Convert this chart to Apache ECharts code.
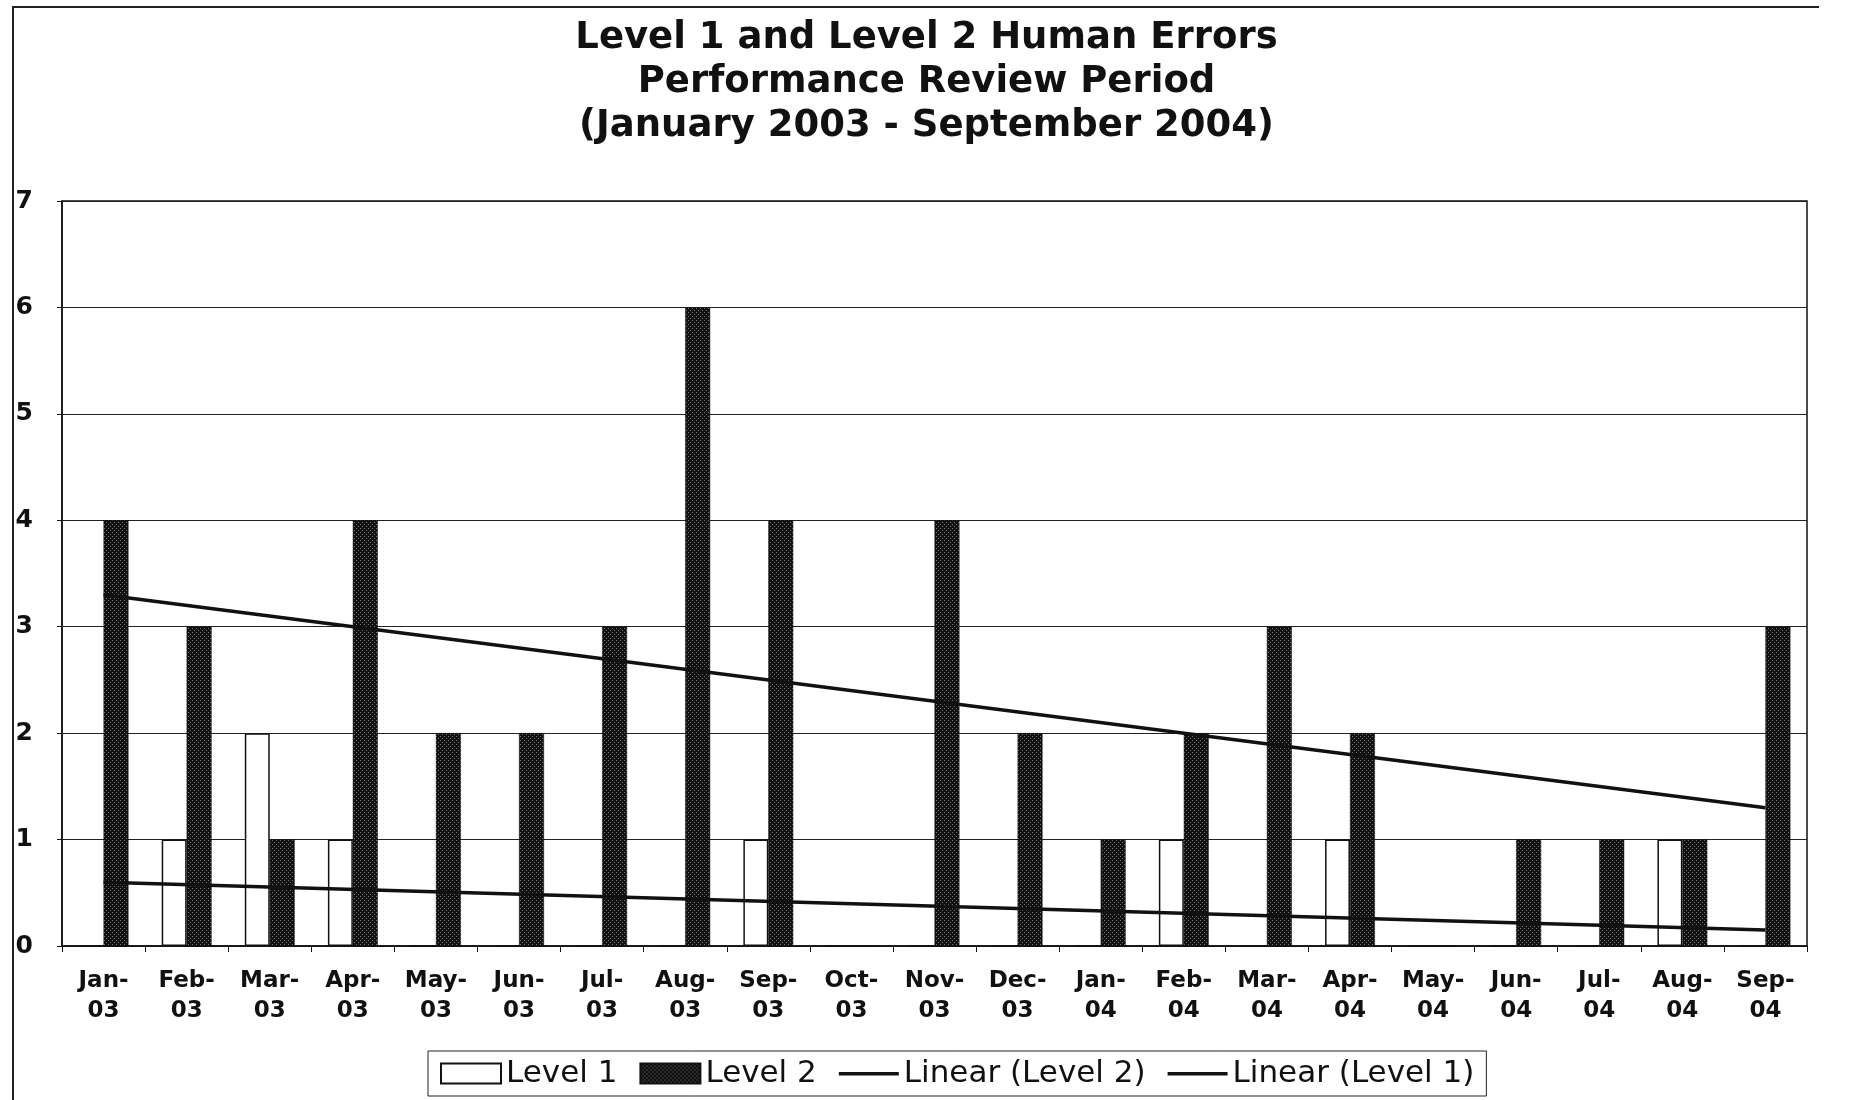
<!DOCTYPE html>
<html>
<head>
<meta charset="utf-8">
<script src="https://cdn.jsdelivr.net/npm/echarts@6/dist/echarts.min.js"></script>
<style>
html,body{margin:0;padding:0;background:#fff;}
#wrap{position:relative;width:1853px;height:1100px;}
#chart{position:absolute;left:0;top:0;width:1853px;height:1100px;}
#frame{position:absolute;left:12px;top:6px;width:1805px;height:1094px;border-top:2px solid #222;border-left:2px solid #222;pointer-events:none;}
</style>
</head>
<body>
<div id="wrap"><div id="chart"></div><div id="frame"></div></div>
<script>
const categories = ['Jan-\n03','Feb-\n03','Mar-\n03','Apr-\n03','May-\n03','Jun-\n03','Jul-\n03','Aug-\n03','Sep-\n03','Oct-\n03','Nov-\n03','Dec-\n03',
  'Jan-\n04','Feb-\n04','Mar-\n04','Apr-\n04','May-\n04','Jun-\n04','Jul-\n04','Aug-\n04','Sep-\n04'];
const level1 = [0,1,2,1,0,0,0,0,1,0,0,0,0,1,0,1,0,0,0,1,0];
const level2 = [4,3,1,4,2,2,3,6,4,0,4,2,1,2,3,2,0,1,1,1,3];
// trend line end values (first and last month)
const trendLevel2 = [3.3, 1.3];
const trendLevel1 = [0.6, 0.15];
const yTicks = [0,1,2,3,4,5,6,7];

// stipple pattern for Level 2 fill
const pc = document.createElement('canvas');
pc.width = 4; pc.height = 4;
const pctx = pc.getContext('2d');
pctx.fillStyle = '#111'; pctx.fillRect(0,0,4,4);
pctx.fillStyle = '#777'; pctx.fillRect(0,0,1,1); pctx.fillRect(2,2,1,1);

// legend icon: thin horizontal line inside an invisible 60x20 box
const lineIcon = 'path://M0,0h0.01v0.01h-0.01z M60,20h0.01v0.01h-0.01z M0,8.5h60v3.5H0z';

const chart = echarts.init(document.getElementById('chart'));
const last = categories.length - 1;
chart.setOption({
  animation: false,
  backgroundColor: '#fff',
  title: {
    text: 'Level 1 and Level 2 Human Errors\nPerformance Review Period\n(January 2003 - September 2004)',
    left: 'center',
    top: 11,
    textStyle: { fontFamily: 'DejaVu Sans', fontWeight: 'bold', fontSize: 37, lineHeight: 44, color: '#111' }
  },
  legend: {
    bottom: 4,
    left: 428,
    padding: [7, 12],
    borderColor: '#222',
    borderWidth: 1,
    itemGap: 22,
    itemWidth: 60,
    itemHeight: 20,
    textStyle: { fontFamily: 'DejaVu Sans', fontSize: 31, color: '#111' },
    data: [
      { name: 'Level 1', icon: 'rect' },
      { name: 'Level 2', icon: 'rect' },
      { name: 'Linear (Level 2)', icon: lineIcon },
      { name: 'Linear (Level 1)', icon: lineIcon }
    ]
  },
  grid: { left: 62, right: 46, top: 201, bottom: 154, show: true, borderColor: '#111', borderWidth: 1.5 },
  xAxis: {
    type: 'category',
    data: categories,
    axisLine: { lineStyle: { color: '#111', width: 1.5 } },
    axisTick: { show: true, interval: 0, length: 6, lineStyle: { color: '#111' } },
    axisLabel: { interval: 0, margin: 20, fontFamily: 'DejaVu Sans', fontWeight: 'bold', fontSize: 23, lineHeight: 30, color: '#111' }
  },
  yAxis: {
    type: 'value',
    min: yTicks[0],
    max: yTicks[yTicks.length - 1],
    interval: 1,
    axisLine: { show: true, lineStyle: { color: '#111', width: 1.5 } },
    axisTick: { show: true, length: 5, lineStyle: { color: '#111' } },
    axisLabel: { margin: 29, fontFamily: 'DejaVu Sans', fontWeight: 'bold', fontSize: 25, color: '#111' },
    splitLine: { lineStyle: { color: '#222', width: 1.2 } }
  },
  series: [
    { name: 'Level 1', type: 'bar', data: level1, barGap: '0%', barCategoryGap: '40%',
      itemStyle: { color: '#fff', borderColor: '#111', borderWidth: 1.5 } },
    { name: 'Level 2', type: 'bar', data: level2, barGap: '0%', barCategoryGap: '40%',
      itemStyle: { color: { image: pc, repeat: 'repeat' }, borderColor: '#111', borderWidth: 0.5 } },
    { name: 'Linear (Level 2)', type: 'line', symbol: 'none', z: 5,
      data: [[categories[0], trendLevel2[0]], [categories[last], trendLevel2[1]]],
      lineStyle: { color: '#111', width: 3.5 }, itemStyle: { color: '#111' } },
    { name: 'Linear (Level 1)', type: 'line', symbol: 'none', z: 5,
      data: [[categories[0], trendLevel1[0]], [categories[last], trendLevel1[1]]],
      lineStyle: { color: '#111', width: 3.5 }, itemStyle: { color: '#111' } }
  ]
});
</script>
</body>
</html>
